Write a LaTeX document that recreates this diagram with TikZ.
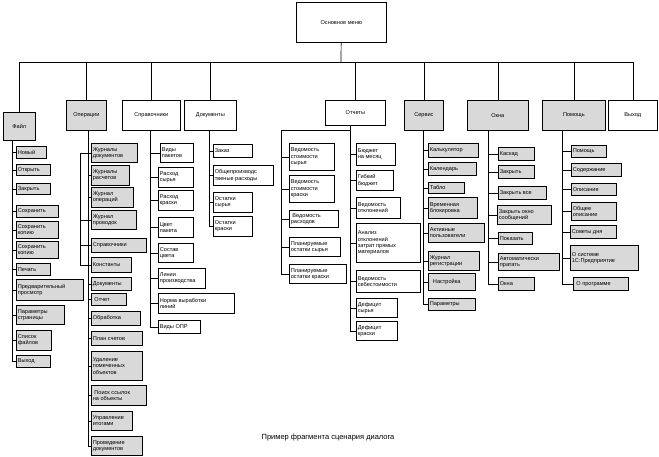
\documentclass[tikz,border=0pt]{standalone}
\usepackage{fontspec}
\setmainfont{Liberation Sans}
\begin{document}
\begin{tikzpicture}[x=1pt,y=-1pt,line width=0.7pt,
  base/.style={draw=black,anchor=north west,inner sep=0pt},
  g/.style={base,fill=black!15},
  w/.style={base,fill=white},
  lbl/.style={anchor=west,inner sep=1.5pt,align=left,font=\fontsize{5.6}{6.4}\selectfont},
  tlbl/.style={inner sep=0pt,align=center,font=\fontsize{5.6}{6.4}\selectfont}]
\useasboundingbox (0,0) rectangle (659,456);
\newcommand\bx[7]{\node[#6,minimum width={#4pt-#2pt},minimum height={#5pt-#3pt}] (#1) at (#2,#3) {};
  \node[lbl] at (#1.west) {#7};}
\newcommand\tb[7]{\node[#6,minimum width={#4pt-#2pt},minimum height={#5pt-#3pt}] (#1) at (#2,#3) {};
  \node[tlbl] at (#1.center) {#7};}
\newcommand\tk[2]{\draw (#1.west) -- (#1.west -| #2);}
% top
\tb{root}{296}{2}{386}{42}{w}{Основное меню}
\coordinate (bus) at (341,62);
\tb{fil}{3}{112}{35}{140}{g}{Файл}
\tb{ops}{66}{100}{106}{130}{g}{Операции}
\tb{spr}{122}{100}{180}{130}{w}{Справочники}
\tb{doc}{184}{100}{236}{130}{w}{Документы}
\tb{otc}{325}{100}{385}{125}{w}{Отчеты}
\tb{ser}{404}{100}{443}{130}{g}{Сервис}
\tb{okn}{467}{100}{528}{130}{g}{Окна}
\tb{pom}{542}{100}{605}{130}{g}{Помощь}
\tb{vyh}{608}{100}{657}{130}{w}{Выход}
\draw (root) -- (bus);
\draw (fil.north |- bus) -- (vyh.north |- bus);
\foreach \n in {fil,ops,spr,doc,otc,ser,okn,pom,vyh} {\draw (\n.north) -- (\n.north |- bus);}
% Файл
\coordinate (tf) at (12,140);
\bx{f1}{16}{146}{46}{158}{g}{Новый}
\bx{f2}{16}{164}{50}{175}{g}{Открыть}
\bx{f3}{16}{183}{50}{194}{g}{Закрыть}
\bx{f4}{16}{205}{58}{217}{g}{Сохранить}
\bx{f5}{16}{221}{58}{238}{g}{Сохранить\\копию}
\bx{f6}{16}{241}{58}{258}{g}{Сохранить\\копию}
\bx{f7}{16}{263}{50}{275}{g}{Печать}
\bx{f8}{16}{279}{83}{300}{g}{Предварительный\\просмотр}
\bx{f9}{16}{305}{64}{324}{g}{Параметры\\страницы}
\bx{f10}{16}{330}{51}{350}{g}{Список\\файлов}
\bx{f11}{16}{355}{50}{367}{g}{Выход}
\draw (tf) -- (tf |- f11.west);
\foreach \n in {f1,f2,f3,f4,f5,f6,f7,f8,f9,f10,f11} {\tk{\n}{tf}}
% Операции
\coordinate (to) at (88,130);
\bx{o1}{91}{143}{137}{162}{g}{Журналы\\документов}
\bx{o2}{91}{165}{129}{185}{g}{Журналы\\расчетов}
\bx{o3}{91}{187}{133}{207}{g}{Журнал\\операций}
\bx{o4}{91}{210}{136}{229}{g}{Журнал\\проводок}
\bx{o5}{91}{238}{146}{252}{g}{Справочники}
\bx{o6}{91}{257}{131}{272}{g}{Константы}
\bx{o7}{91}{277}{131}{290}{g}{Документы}
\bx{o8}{91}{293}{126}{305}{g}{\ Отчет}
\bx{o9}{91}{311}{140}{325}{g}{Обработка}
\bx{o10}{91}{331}{142}{345}{g}{План счетов}
\bx{o11}{91}{351}{142}{380}{g}{Удаление\\помеченных\\объектов}
\bx{o12}{91}{385}{146}{405}{g}{\ Поиск ссылок\\на объекты}
\bx{o13}{91}{411}{132}{430}{g}{Управление\\итогами}
\bx{o14}{91}{436}{142}{455}{g}{Проведение\\документов}
\draw (to) -- (to |- o14.west);
\foreach \n in {o1,o2,o3,o4,o5,o6,o7,o8,o9,o10,o11,o12,o13,o14} {\tk{\n}{to}}
\coordinate (tb) at (80,153);
\draw (tb) -- (tb |- o6.west);
\foreach \n in {o1,o4,o5,o6} {\tk{\n}{tb}}
% Справочники
\coordinate (ts) at (150,130);
\bx{s1}{160}{143}{193}{162}{w}{Виды\\пакетов}
\bx{s2}{158}{167}{193}{187}{w}{Расход\\сырья}
\bx{s3}{158}{190}{193}{210}{w}{Расход\\краски}
\bx{s4}{158}{217}{193}{237}{w}{Цвет\\пакета}
\bx{s5}{158}{243}{193}{262}{w}{Состав\\цвета}
\bx{s6}{158}{268}{205}{288}{w}{Линии\\производства}
\bx{s7}{158}{293}{234}{313}{w}{Норма выработки\\линий}
\bx{s8}{158}{320}{200}{333}{w}{Виды ОПР}
\draw (ts) -- (ts |- s8.west);
\foreach \n in {s1,s2,s3,s4,s5,s6,s7,s8} {\tk{\n}{ts}}
% Документы
\coordinate (td) at (209,130);
\bx{d1}{213}{144}{252}{157}{w}{Заказ}
\bx{d2}{213}{165}{273}{185}{w}{Общепроизводс\\твеные расходы}
\bx{d3}{213}{192}{252}{212}{w}{Остатки\\сырья}
\bx{d4}{213}{216}{252}{236}{w}{Остатки\\краски}
\draw (td) -- (td |- d4.west);
\foreach \n in {d1,d2,d3,d4} {\tk{\n}{td}}
% Отчеты
\coordinate (tr) at (350,125);
\coordinate (tl) at (281,130);
\bx{r1}{289}{143}{334}{170}{w}{Ведомость\\стоимости\\сырья}
\bx{r2}{289}{175}{334}{202}{w}{Ведомость\\стоимости\\краски}
\bx{r3}{289}{210}{338}{227}{w}{\ Ведомость\\расходов}
\bx{r4}{289}{237}{340}{256}{w}{Планируемые\\остатки сырья}
\bx{r5}{289}{264}{346}{283}{w}{Планируемые\\остатки краски}
\draw (tl -| tr) -- (tl) -- (tl |- r5.west);
\foreach \n in {r1,r2,r3,r4,r5} {\tk{\n}{tl}}
\bx{q1}{356}{143}{395}{165}{w}{Бюджет\\на месяц}
\bx{q2}{356}{170}{393}{190}{w}{Гибкий\\бюджет}
\bx{q3}{356}{197}{400}{218}{w}{Ведомость\\отклонений}
\bx{q4}{356}{223}{420}{262}{w}{Анализ\\отклонений\\затрат прямых\\материалов}
\bx{q5}{356}{270}{420}{292}{w}{Ведомость\\себестоимости}
\bx{q6}{356}{298}{397}{317}{w}{Дефицит\\сырья}
\bx{q7}{356}{321}{397}{340}{w}{Дефицит\\краски}
\draw (tr) -- (tr |- q7.west);
\foreach \n in {q1,q2,q3,q4,q5,q6,q7} {\tk{\n}{tr}}
% Сервис
\coordinate (tv) at (423,130);
\bx{v1}{428}{143}{478}{157}{g}{Калькулятор}
\bx{v2}{428}{162}{476}{175}{g}{Календарь}
\bx{v3}{428}{182}{464}{193}{g}{Табло}
\bx{v4}{428}{197}{477}{218}{g}{Временная\\блокировка}
\bx{v5}{428}{223}{484}{242}{g}{Активные\\пользователи}
\bx{v6}{428}{251}{479}{270}{g}{Журнал\\регистрации}
\bx{v7}{428}{273}{475}{290}{g}{\ \ Настройка}
\bx{v8}{428}{298}{475}{310}{g}{Параметры}
\draw (tv) -- (tv |- v8.west);
\foreach \n in {v1,v2,v3,v4,v5,v6,v7,v8} {\tk{\n}{tv}}
% Окна
\coordinate (tw) at (488,130);
\bx{k1}{498}{147}{534}{160}{g}{Каскад}
\bx{k2}{498}{165}{534}{178}{g}{Закрыть}
\bx{k3}{498}{186}{546}{199}{g}{Закрыть все}
\bx{k4}{497}{205}{551}{224}{g}{Закрыть окно\\сообщений}
\bx{k5}{498}{232}{532}{244}{g}{Показать}
\bx{k6}{498}{253}{559}{270}{g}{Автоматически\\пратать}
\bx{k7}{498}{277}{534}{290}{g}{Окна}
\draw (tw) -- (tw |- k7.west);
\foreach \n in {k1,k2,k3,k4,k5,k6,k7} {\tk{\n}{tw}}
% Помощь
\coordinate (tp) at (562,130);
\bx{p1}{571}{145}{606}{157}{g}{Помощь}
\bx{p2}{571}{163}{621}{176}{g}{Содержание}
\bx{p3}{571}{183}{616}{195}{g}{Описание}
\bx{p4}{571}{202}{616}{220}{g}{Общее\\описание}
\bx{p5}{570}{225}{616}{238}{g}{Советы дня}
\bx{p6}{570}{245}{638}{270}{g}{О системе\\1С:Предприятие}
\bx{p7}{573}{277}{628}{290}{g}{\ О программе}
\draw (tp) -- (tp |- p7.west);
\foreach \n in {p1,p2,p3,p4,p5,p6,p7} {\tk{\n}{tp}}
\node[font=\fontsize{7.5}{9}\selectfont] (cap) at (328,438) {Пример фрагмента сценария диалога};
\end{tikzpicture}
\end{document}
